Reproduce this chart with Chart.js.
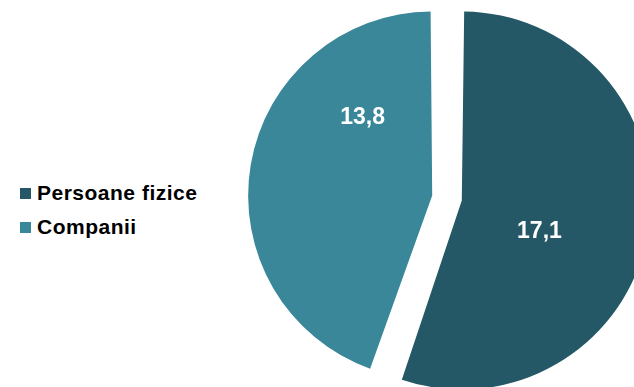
<!DOCTYPE html>
<html lang="ro">
<head>
  <meta charset="UTF-8">
  <title>Persoane fizice vs Companii</title>
  <script src="https://cdn.jsdelivr.net/npm/chart.js"></script>
  <style>
    html, body { margin: 0; padding: 0; background: #fff; overflow: hidden; }
    body { width: 634px; height: 387px; position: relative; font-family: "Liberation Sans", Arial, sans-serif; }
    #wrap { position: absolute; left: 237px; top: 0; width: 420px; height: 387px; }
    #legend { position: absolute; left: 20px; top: 182px; font-weight: bold; font-size: 21px; letter-spacing: 0.5px; color: #000; }
    .item { height: 34px; line-height: 22px; white-space: nowrap; }
    .box { display: inline-block; width: 11px; height: 11px; margin-right: 6px; vertical-align: 1px; }
  </style>
</head>
<body>
  <div id="legend"></div>
  <div id="wrap"><canvas id="pie"></canvas></div>
  <script>
    const categories = ['Persoane fizice', 'Companii'];
    const values = [17.1, 13.8];
    const valueLabels = ['17,1', '13,8'];
    const colors = ['#245866', '#3a8799'];

    // labels drawn inside the slices: [radial fraction, fraction along the arc]
    const labelPlugin = {
      id: 'sliceLabels',
      afterDatasetsDraw(chart, args, opts) {
        const ctx = chart.ctx;
        const arcs = chart.getDatasetMeta(0).data;
        ctx.save();
        ctx.fillStyle = '#fff';
        ctx.font = 'bold 23px "Liberation Sans", Arial, sans-serif';
        ctx.textAlign = 'center';
        ctx.textBaseline = 'middle';
        arcs.forEach((arc, i) => {
          const p = arc.getProps(['x', 'y', 'startAngle', 'endAngle', 'outerRadius']);
          const [rf, af] = opts.pos[i];
          const mid = (p.startAngle + p.endAngle) / 2;
          const off = chart.data.datasets[0].offset / 4; // arcs move offset/4 px in v4
          const cx = p.x + Math.cos(mid) * off;
          const cy = p.y + Math.sin(mid) * off;
          const a = p.startAngle + (p.endAngle - p.startAngle) * af;
          ctx.fillText(valueLabels[i], cx + Math.cos(a) * p.outerRadius * rf, cy + Math.sin(a) * p.outerRadius * rf);
        });
        ctx.restore();
      }
    };

    new Chart(document.getElementById('pie'), {
      type: 'pie',
      data: {
        labels: categories,
        datasets: [{
          data: values,
          backgroundColor: colors,
          borderWidth: 0,
          offset: 60,
          hoverOffset: 0
        }]
      },
      options: {
        responsive: true,
        maintainAspectRatio: false,
        animation: false,
        radius: 174,
        layout: { padding: { top: 9 } },
        plugins: {
          legend: { display: false },
          tooltip: { enabled: false },
          sliceLabels: { pos: [[0.48, 0.56], [0.6, 0.74]] }
        }
      },
      plugins: [labelPlugin]
    });

    const legend = document.getElementById('legend');
    categories.forEach((c, i) => {
      const row = document.createElement('div');
      row.className = 'item';
      row.innerHTML = '<span class="box" style="background:' + colors[i] + '"></span>' + c;
      legend.appendChild(row);
    });
  </script>
</body>
</html>
